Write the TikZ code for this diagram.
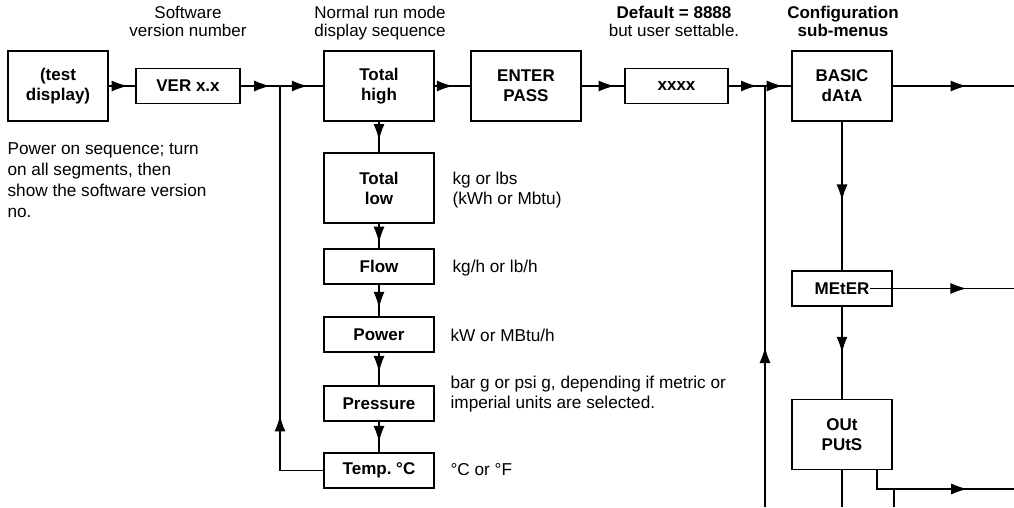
\documentclass[tikz,border=0pt]{standalone}
\usepackage{fontspec}
\setmainfont{Liberation Sans}
\usetikzlibrary{arrows.meta}
\usetikzlibrary{decorations.markings}
\frenchspacing

\begin{document}
\begin{tikzpicture}[x=1pt, y=-1pt, line width=1.2pt,
  box/.style={draw, rectangle, inner sep=0pt, align=center, font=\fontsize{17}{20}\selectfont\bfseries, minimum width=110pt},
  tallbox/.style={box, minimum height=70pt},
  flatbox/.style={box, minimum height=35pt},
  note/.style={inner sep=0pt, align=left, anchor=north west, font=\fontsize{17.2}{20.7}\selectfont},
  head/.style={inner sep=0pt, align=center, anchor=north, font=\fontsize{17}{18}\selectfont},
  flow/.style={postaction={decorate}, decoration={markings, mark=at position #1 with {\arrow{Latex[length=16pt,width=11pt]}}}},
  flow/.default=0.7]
\useasboundingbox (0,0) rectangle (1014,507);
\node[tallbox, minimum width=100pt] (test) at (58,86) {(test\\display)};
\node[flatbox, minimum width=104pt] (ver) at (188,86) {VER x.x};
\node[tallbox] (thigh) at (379,86) {Total\\high};
\node[tallbox] (enter) at (526,86) {ENTER\\PASS};
\node[flatbox, minimum width=103pt] (xxxx) at (676.5,86) {xxxx};
\node[tallbox, minimum width=100pt] (basic) at (842,86) {BASIC\\dAtA};
\node[tallbox] (tlow) at (379,188) {Total\\low};
\node[flatbox] (flowval) at (379,266.5) {Flow};
\node[flatbox] (power) at (379,334.5) {Power};
\node[flatbox] (pressure) at (379,403.5) {Pressure};
\node[flatbox] (temp) at (379,470.5) {Temp. °C};
\node[flatbox, minimum width=100pt] (meter) at (842,288.5) {MEtER};
\node[tallbox, minimum width=100pt] (outputs) at (842,434.5) {OUt\\PUtS};
\node[head] (hsoft) at (188,6) {Software\\version number};
\node[head] (hnorm) at (380,6) {Normal run mode\\display sequence};
\node[head] (hdef) at (674,6) {\textbf{Default = 8888}\\but user settable.};
\node[head, font=\fontsize{17}{18}\selectfont\bfseries] (hconf) at (843,6) {Configuration\\sub-menus};
\node[note] (npower) at (7,142.5) {Power on sequence; turn\\on all segments, then\\show the software version\\no.};
\node[note] (nkg) at (452,171) {kg or lbs\\(kWh or Mbtu)};
\node[note] (nkgh) at (452,259) {kg/h or lb/h};
\node[note] (nkw) at (450,328) {kW or MBtu/h};
\node[note] (nbar) at (450,375) {bar g or psi g, depending if metric or\\imperial units are selected.};
\node[note] (ndeg) at (450,462.5) {°C or °F};
\coordinate (j1) at (280,86);
\coordinate (j2) at (765,86);
\coordinate (j2end) at (765,507);
\coordinate (e1) at (1014,86);
\coordinate (mstart) at (870,288.5);
\coordinate (e2) at (1014,288.5);
\coordinate (obot) at (842,507);
\coordinate (ostart) at (877,470);
\coordinate (ocorner) at (877,489);
\coordinate (e3) at (1014,489);
\coordinate (ofork) at (894,489);
\coordinate (fbot) at (894,507);
\draw[flow=0.71] (test) -- (ver);
\draw[flow=0.75] (ver) -- (j1);
\draw[flow=0.64] (j1) -- (thigh);
\draw[flow=0.51] (thigh) -- (enter);
\draw[flow=0.77] (enter) -- (xxxx);
\draw[flow=0.78] (xxxx) -- (j2);
\draw[flow=0.67] (j2) -- (basic);
\draw[flow=0.61] (basic) -- (e1);
\draw[flow=0.6] (thigh) -- (tlow);
\draw[flow=0.77] (tlow) -- (flowval);
\draw[flow=0.73] (flowval) -- (power);
\draw[flow=0.59] (power) -- (pressure);
\draw[flow=0.66] (pressure) -- (temp);
\draw[flow=0.23] (temp) -| (j1);
\draw[flow=0.38] (j2end) -- (j2);
\draw[flow=0.53] (basic) -- (meter);
\draw[flow=0.67] (mstart) -- (e2);
\draw[flow=0.5] (meter) -- (outputs);
\draw (outputs) -- (obot);
\draw[flow] (ostart) -- (ocorner) -- (e3);
\draw (ofork) -- (fbot);
\end{tikzpicture}
\end{document}
